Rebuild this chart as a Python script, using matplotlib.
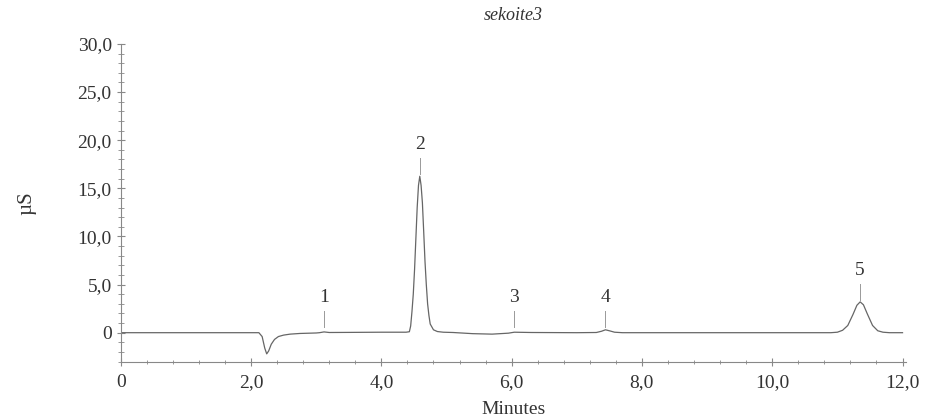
import matplotlib
matplotlib.use("Agg")
import matplotlib.pyplot as plt
from matplotlib.ticker import MultipleLocator, FixedLocator

# chromatogram trace (minutes, µS)
times = [0.0, 1.0, 2.0, 2.12, 2.17, 2.21, 2.24, 2.27, 2.31, 2.36, 2.42, 2.5,
         2.6, 2.75, 3.0, 3.05, 3.12, 3.2, 3.5, 4.0, 4.38, 4.43, 4.45, 4.47,
         4.49, 4.51, 4.53, 4.55, 4.57, 4.59, 4.61, 4.63, 4.65, 4.67, 4.69,
         4.71, 4.73, 4.75, 4.8, 4.86, 4.95, 5.1, 5.4, 5.7,
         5.95, 6.04, 6.3, 7.0, 7.3, 7.38, 7.44, 7.5, 7.58, 7.7, 8.5, 10.0,
         10.9, 11.0, 11.08, 11.16, 11.24, 11.3, 11.35, 11.4, 11.46, 11.54,
         11.62, 11.7, 11.8, 12.0]
signal = [0.0, 0.0, 0.0, 0.0, -0.4, -1.6, -2.2, -1.9, -1.2, -0.7, -0.4, -0.25,
          -0.15, -0.08, -0.03, 0.0, 0.08, 0.02, 0.03, 0.05, 0.05, 0.1, 0.7, 2.2,
          4.0, 6.6, 9.8, 13.0, 15.3, 16.25, 15.3, 13.5, 10.5, 7.4, 5.0,
          3.0, 1.8, 0.9, 0.3, 0.12, 0.05, 0.02, -0.1, -0.15,
          -0.05, 0.05, 0.02, 0.0, 0.02, 0.15, 0.3, 0.2, 0.05, 0.0, 0.0, 0.0,
          0.0, 0.05, 0.25, 0.75, 1.9, 2.85, 3.2, 2.9, 1.95, 0.75,
          0.2, 0.05, 0.0, 0.0]

# peak labels
peak_ids = ["1", "2", "3", "4", "5"]
peak_times = [3.12, 4.59, 6.04, 7.44, 11.35]
peak_heights = [0.08, 16.25, 0.05, 0.3, 3.2]

x_ticks = [0, 2, 4, 6, 8, 10, 12]
x_labels = ["0", "2,0", "4,0", "6,0", "8,0", "10,0", "12,0"]
y_ticks = [0, 5, 10, 15, 20, 25, 30]
y_labels = ["0", "5,0", "10,0", "15,0", "20,0", "25,0", "30,0"]

plt.rcParams["font.family"] = ["Liberation Serif", "DejaVu Serif"]
txt = "#333333"
grey = "#666666"

fig = plt.figure(figsize=(9.29, 4.18), dpi=100)
ax = fig.add_axes([0.130, 0.135, 0.845, 0.76])

ax.plot(times, signal, color=grey, lw=0.9)

for pid, t, h in zip(peak_ids, peak_times, peak_heights):
    low = max(h + 0.2, 0.6)
    ax.plot([t, t], [low, low + 1.7], color="#999999", lw=0.7)
    ax.text(t, low + 3.1, pid, ha="center", va="center", fontsize=14, color=txt)

ax.set_xlim(0, 12.05)
ax.set_ylim(-3.0, 30)
ax.xaxis.set_major_locator(FixedLocator(x_ticks))
ax.set_xticklabels(x_labels)
ax.yaxis.set_major_locator(FixedLocator(y_ticks))
ax.set_yticklabels(y_labels)
ax.xaxis.set_minor_locator(MultipleLocator(0.4))
ax.yaxis.set_minor_locator(MultipleLocator(1))

for s in ["top", "right"]:
    ax.spines[s].set_visible(False)
for s in ["left", "bottom"]:
    ax.spines[s].set_color("#888888")
    ax.spines[s].set_linewidth(0.8)

ax.tick_params(which="both", direction="inout", colors="#888888",
               labelcolor=txt, labelsize=14)
ax.tick_params(which="major", length=6, width=0.8)
ax.tick_params(which="minor", length=4, width=0.6)
ax.tick_params(axis="x", which="minor", length=3)
ax.tick_params(axis="x", pad=6)

ax.set_xlabel("Minutes", fontsize=14, color=txt, labelpad=7)
ax.set_ylabel("µS", fontsize=15, color=txt, labelpad=30)
ax.set_title("sekoite3", fontsize=13, style="italic", color=txt, pad=17)

fig.savefig("out.png", dpi=100)
